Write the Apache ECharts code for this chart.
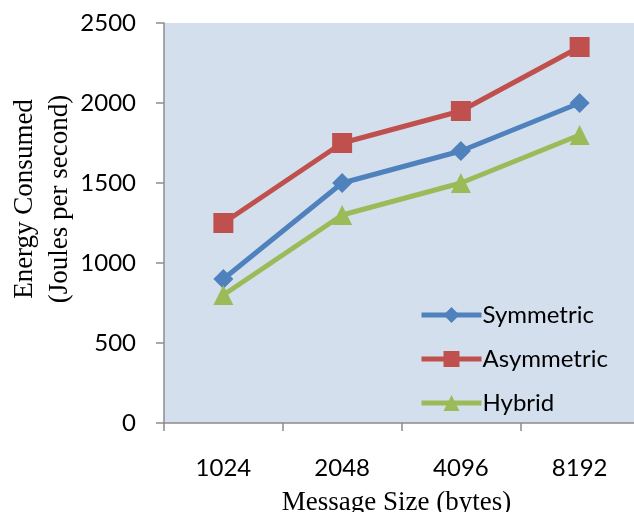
<!DOCTYPE html>
<html>
<head>
<meta charset="utf-8">
<script src="https://cdn.jsdelivr.net/npm/echarts@6/dist/echarts.min.js"></script>
<style>
  html, body { margin: 0; padding: 0; background: #fff; }
  #chart { width: 634px; height: 512px; }
</style>
</head>
<body>
<div id="chart"></div>
<script>
// Message sizes on the x axis and energy readings per scheme
const categories = ['1024', '2048', '4096', '8192'];
const symmetric = [900, 1500, 1700, 2000];
const asymmetric = [1250, 1750, 1950, 2350];
const hybrid = [800, 1300, 1500, 1800];

const sansFont = 'Lato, "Open Sans", sans-serif';
const serifFont = '"Liberation Serif", "DejaVu Serif", serif';
const axisGray = '#8c8c8c';

const chart = echarts.init(document.getElementById('chart'));

function lineSeries(name, data, color, symbol) {
  return {
    name: name,
    type: 'line',
    data: data,
    symbol: symbol,
    symbolSize: 20,
    lineStyle: { color: color, width: 5 },
    itemStyle: { color: color },
    emphasis: { disabled: true },
    z: 3
  };
}

chart.setOption({
  animation: false,
  grid: {
    left: 164,
    top: 23,
    width: 475,
    height: 400,
    containLabel: false,
    outerBoundsMode: 'none',
    show: true,
    backgroundColor: '#d4dfee',
    borderWidth: 0
  },
  legend: {
    orient: 'vertical',
    left: 414,
    top: 298,
    itemWidth: 60,
    itemHeight: 20,
    itemGap: 20,
    data: ['Symmetric', 'Asymmetric', 'Hybrid'],
    lineStyle: { width: 5 },
    textStyle: { fontFamily: sansFont, fontSize: 24, color: '#000', padding: [0, 0, 0, -4] }
  },
  xAxis: {
    type: 'category',
    data: categories,
    boundaryGap: true,
    axisLine: { show: true, lineStyle: { color: axisGray, width: 1.5 } },
    axisTick: { show: true, alignWithLabel: false, length: 8, lineStyle: { color: axisGray, width: 1.5 } },
    axisLabel: { fontFamily: sansFont, fontSize: 24, color: '#000', margin: 33 },
    name: 'Message Size (bytes)',
    nameLocation: 'middle',
    nameGap: 66,
    nameMoveOverlap: false,
    nameTextStyle: { fontFamily: serifFont, fontSize: 27, color: '#000', padding: [0, 0, 0, -10] },
    splitLine: { show: false }
  },
  yAxis: {
    type: 'value',
    min: 0,
    max: 2500,
    interval: 500,
    axisLine: { show: true, lineStyle: { color: axisGray, width: 1.5 } },
    axisTick: { show: true, length: 8, lineStyle: { color: axisGray, width: 1.5 } },
    axisLabel: {
      fontFamily: sansFont, fontSize: 24, color: '#000', margin: 28,
      formatter: function (v) { return String(v); }
    },
    splitLine: { show: false },
    name: 'Energy Consumed\n(Joules per second)',
    nameLocation: 'middle',
    nameRotate: 90,
    nameGap: 87,
    nameMoveOverlap: false,
    nameTextStyle: { fontFamily: serifFont, fontSize: 27, color: '#000', lineHeight: 35, padding: [0, 0, 0, 48] }
  },
  series: [
    lineSeries('Symmetric', symmetric, '#4f81bd', 'diamond'),
    lineSeries('Asymmetric', asymmetric, '#c0504d', 'rect'),
    lineSeries('Hybrid', hybrid, '#9bbb59', 'triangle')
  ]
});
</script>
</body>
</html>
